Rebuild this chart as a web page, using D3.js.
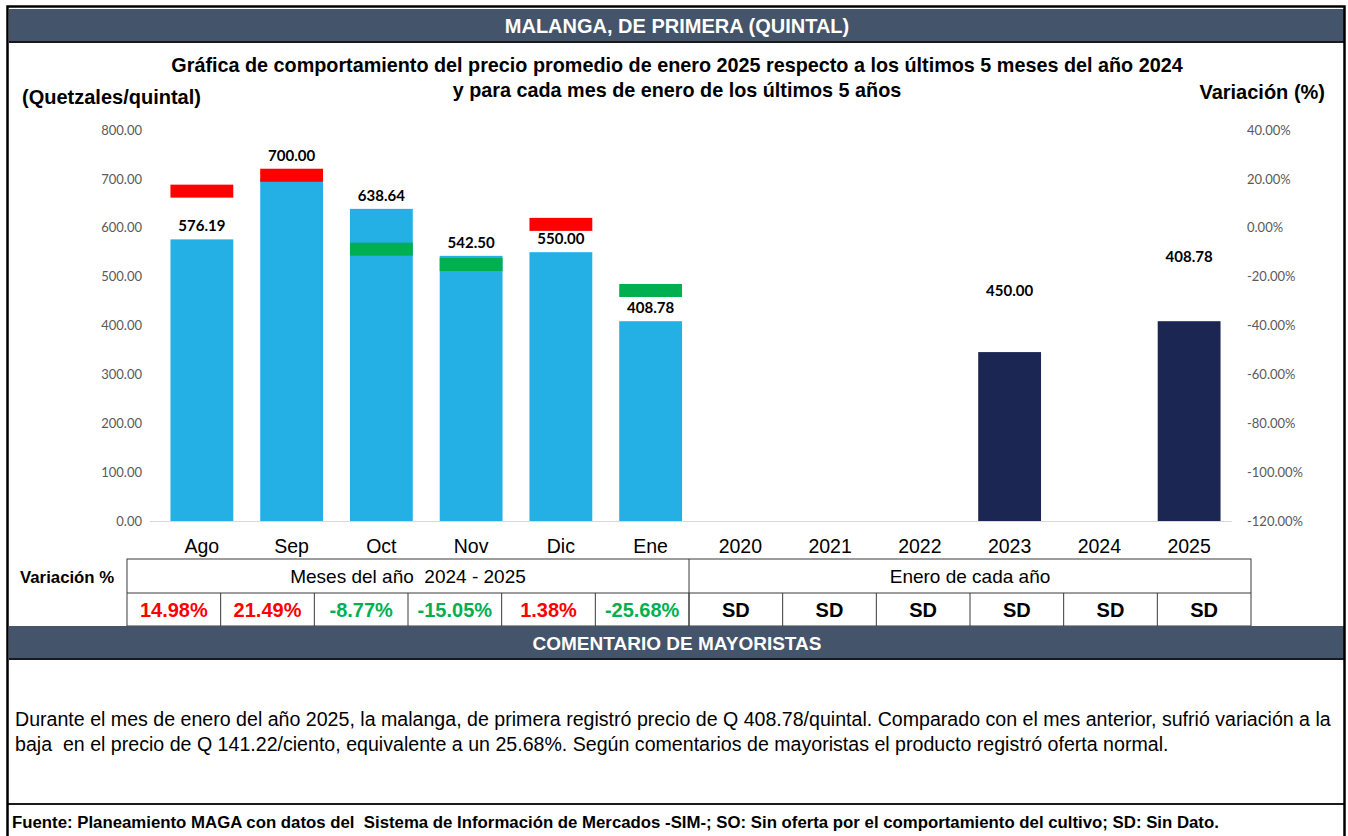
<!DOCTYPE html>
<html lang="es">
<head>
<meta charset="utf-8">
<title>Malanga, de primera (quintal)</title>
<script src="https://cdn.jsdelivr.net/npm/d3@7/dist/d3.min.js"></script>
<style>
  body { margin: 0; background: #fff; }
  svg { display: block; font-family: "Liberation Sans", Arial, sans-serif; }
  svg text { white-space: pre; }
  .tick-label { font-family: Lato, "Liberation Sans", sans-serif; font-size: 13px; fill: #595959; }
  .bar-label { font-family: Lato, "Liberation Sans", sans-serif; font-size: 15px; font-weight: 700; fill: #000; }
</style>
</head>
<body>
<div id="chart"></div>
<script>
// Datos
const months = ['Ago', 'Sep', 'Oct', 'Nov', 'Dic', 'Ene'];
const years = ['2020', '2021', '2022', '2023', '2024', '2025'];
const monthPrices = [576.19, 700.00, 638.64, 542.50, 550.00, 408.78];
const monthVariation = [14.98, 21.49, -8.77, -15.05, 1.38, -25.68];
// barras de enero de cada año (altura tal como se dibuja en la gráfica)
const yearBarPrices = [null, null, null, 345.6, null, 408.78];
const yearPriceLabels = [null, null, null, '450.00', null, '408.78'];
const yearLabelLevels = [null, null, null, 460, null, 530];
const yearVariation = ['SD', 'SD', 'SD', 'SD', 'SD', 'SD'];
const leftTicks = [0, 100, 200, 300, 400, 500, 600, 700, 800];
const rightTicks = [-120, -100, -80, -60, -40, -20, 0, 20, 40];

const comment = [
  'Durante el mes de enero del año 2025, la malanga, de primera registró precio de Q 408.78/quintal. Comparado con el mes anterior, sufrió variación a la',
  'baja  en el precio de Q 141.22/ciento, equivalente a un 25.68%. Según comentarios de mayoristas el producto registró oferta normal.'
];

const width = 1348;
const height = 836;
const headerColor = '#44546a';
const lightBlue = '#25b0e5';
const navy = '#1b2653';
const red = '#ff0000';
const green = '#00b050';

const svg = d3.select('#chart')
  .append('svg')
  .attr('width', width)
  .attr('height', height);

svg.append('rect').attr('width', width).attr('height', height).attr('fill', '#fff');

// Barra de título
function headerBar(y, h, label, size) {
  svg.append('rect')
    .attr('x', 9).attr('y', y).attr('width', 1335).attr('height', h)
    .attr('fill', headerColor);
  svg.append('line')
    .attr('x1', 9).attr('x2', 1344).attr('y1', y + h).attr('y2', y + h)
    .attr('stroke', '#1a1a1a').attr('stroke-width', 2);
  svg.append('text')
    .attr('x', 677).attr('y', y + h / 2 + 7)
    .attr('text-anchor', 'middle')
    .attr('font-size', size + 'px')
    .attr('font-weight', 700)
    .attr('fill', '#fff')
    .text(label);
}

headerBar(9, 33, 'MALANGA, DE PRIMERA (QUINTAL)', 20);

// Títulos del gráfico
const titleLines = [
  'Gráfica de comportamiento del precio promedio de enero 2025 respecto a los últimos 5 meses del año 2024',
  'y para cada mes de enero de los últimos 5 años'
];
titleLines.forEach((t, i) => {
  svg.append('text')
    .attr('x', 677).attr('y', 72 + i * 25)
    .attr('text-anchor', 'middle')
    .attr('font-size', '19.8px')
    .attr('font-weight', 700)
    .text(t);
});

svg.append('text')
  .attr('x', 22).attr('y', 104)
  .attr('font-size', '20px').attr('font-weight', 700)
  .text('(Quetzales/quintal)');

svg.append('text')
  .attr('x', 1325).attr('y', 99)
  .attr('text-anchor', 'end')
  .attr('font-size', '20px').attr('font-weight', 700)
  .text('Variación (%)');

// Escalas
const categories = months.concat(years);
const x = d3.scaleBand()
  .domain(categories)
  .range([157, 1234])
  .paddingInner(0.3)
  .paddingOuter(0.15);

const yLeft = d3.scaleLinear().domain([0, 800]).range([521, 130]);
const yRight = d3.scaleLinear().domain([-120, 40]).range([521, 130]);

// Ejes (solo etiquetas, sin líneas)
const leftAxis = svg.append('g')
  .attr('transform', 'translate(142,0)')
  .call(d3.axisLeft(yLeft).tickValues(leftTicks).tickFormat(d3.format('.2f')).tickSize(0).tickPadding(0));
leftAxis.select('.domain').remove();
leftAxis.selectAll('text').attr('class', 'tick-label').attr('font-family', null).attr('font-size', null).attr('fill', null);

const rightAxis = svg.append('g')
  .attr('transform', 'translate(1247,0)')
  .call(d3.axisRight(yRight).tickValues(rightTicks).tickFormat(d => d.toFixed(2) + '%').tickSize(0).tickPadding(0));
rightAxis.select('.domain').remove();
rightAxis.selectAll('text').attr('class', 'tick-label').attr('font-family', null).attr('font-size', null).attr('fill', null);

// Línea base
svg.append('line')
  .attr('x1', 150).attr('x2', 1232)
  .attr('y1', yLeft(0) + 0.5).attr('y2', yLeft(0) + 0.5)
  .attr('stroke', '#d9d9d9').attr('stroke-width', 1);

// Barras de los meses
const monthData = months.map((m, i) => ({ cat: m, price: monthPrices[i], variation: monthVariation[i] }));

svg.selectAll('.month-bar')
  .data(monthData)
  .enter()
  .append('rect')
  .attr('class', 'month-bar')
  .attr('x', d => x(d.cat))
  .attr('y', d => yLeft(d.price))
  .attr('width', x.bandwidth())
  .attr('height', d => yLeft(0) - yLeft(d.price))
  .attr('fill', lightBlue);

// Barras de enero de cada año
const yearData = years.map((yr, i) => ({
  cat: yr, price: yearBarPrices[i], label: yearPriceLabels[i], level: yearLabelLevels[i]
})).filter(d => d.price !== null);

svg.selectAll('.year-bar')
  .data(yearData)
  .enter()
  .append('rect')
  .attr('class', 'year-bar')
  .attr('x', d => x(d.cat))
  .attr('y', d => yLeft(d.price))
  .attr('width', x.bandwidth())
  .attr('height', d => yLeft(0) - yLeft(d.price))
  .attr('fill', navy);

// Marcadores de variación (eje derecho)
const markerH = 13;
svg.selectAll('.marker')
  .data(monthData)
  .enter()
  .append('rect')
  .attr('class', 'marker')
  .attr('x', d => x(d.cat))
  .attr('y', d => yRight(d.variation) - markerH / 2)
  .attr('width', x.bandwidth())
  .attr('height', markerH)
  .attr('fill', d => d.variation >= 0 ? red : green);

// Etiquetas de precio
function labelY(d) {
  const barTop = yLeft(d.price);
  const mTop = yRight(d.variation) - markerH / 2;
  const mBottom = mTop + markerH;
  const overlaps = mTop <= barTop + 2 && mBottom >= barTop - 2;
  return (overlaps ? Math.min(barTop, mTop) : barTop) - 8;
}

svg.selectAll('.month-label')
  .data(monthData)
  .enter()
  .append('text')
  .attr('class', 'bar-label')
  .attr('x', d => x(d.cat) + x.bandwidth() / 2)
  .attr('y', labelY)
  .attr('text-anchor', 'middle')
  .text(d => d.price.toFixed(2));

svg.selectAll('.year-label')
  .data(yearData)
  .enter()
  .append('text')
  .attr('class', 'bar-label')
  .attr('x', d => x(d.cat) + x.bandwidth() / 2)
  .attr('y', d => yLeft(d.level))
  .attr('text-anchor', 'middle')
  .text(d => d.label);

// Categorías del eje X
svg.selectAll('.cat-label')
  .data(categories)
  .enter()
  .append('text')
  .attr('x', d => x(d) + x.bandwidth() / 2)
  .attr('y', 553)
  .attr('text-anchor', 'middle')
  .attr('font-size', '19.5px')
  .text(d => d);

// Tabla de variación
const tableLeft = 127;
const tableRight = 1251;
const rowTop = 559;
const rowMid = 593;
const rowBottom = 626;
const cols = d3.scaleBand().domain(categories).range([tableLeft, tableRight]);
const lineColor = '#3a3a3a';

const table = svg.append('g');
table.append('rect')
  .attr('x', tableLeft).attr('y', rowTop)
  .attr('width', tableRight - tableLeft).attr('height', rowBottom - rowTop)
  .attr('fill', 'none').attr('stroke', lineColor).attr('stroke-width', 1);
table.append('line')
  .attr('x1', tableLeft).attr('x2', tableRight).attr('y1', rowMid).attr('y2', rowMid)
  .attr('stroke', lineColor);
table.append('line')
  .attr('x1', cols('2020')).attr('x2', cols('2020')).attr('y1', rowTop).attr('y2', rowBottom)
  .attr('stroke', lineColor);
categories.slice(1).forEach(c => {
  table.append('line')
    .attr('x1', cols(c)).attr('x2', cols(c)).attr('y1', rowMid).attr('y2', rowBottom)
    .attr('stroke', lineColor);
});

table.append('text')
  .attr('x', (tableLeft + cols('2020')) / 2).attr('y', 583)
  .attr('text-anchor', 'middle').attr('font-size', '19px')
  .text('Meses del año  2024 - 2025');
table.append('text')
  .attr('x', (cols('2020') + tableRight) / 2).attr('y', 583)
  .attr('text-anchor', 'middle').attr('font-size', '19px')
  .text('Enero de cada año');

svg.append('text')
  .attr('x', 20).attr('y', 583)
  .attr('font-size', '16.8px').attr('font-weight', 700)
  .text('Variación %');

const cellData = monthVariation.map((v, i) => ({
  cat: months[i], text: v.toFixed(2) + '%', color: v >= 0 ? red : green
})).concat(yearVariation.map((v, i) => ({ cat: years[i], text: v, color: '#000' })));

table.selectAll('.cell')
  .data(cellData)
  .enter()
  .append('text')
  .attr('x', d => cols(d.cat) + cols.bandwidth() / 2)
  .attr('y', 617)
  .attr('text-anchor', 'middle')
  .attr('font-size', '20px')
  .attr('font-weight', 700)
  .attr('fill', d => d.color)
  .text(d => d.text);

// Comentario de mayoristas
headerBar(626, 33, 'COMENTARIO DE MAYORISTAS', 19);

comment.forEach((line, i) => {
  svg.append('text')
    .attr('x', 15).attr('y', 726 + i * 25)
    .attr('font-size', '19.6px')
    .text(line);
});

svg.append('line')
  .attr('x1', 8).attr('x2', 1344).attr('y1', 804).attr('y2', 804)
  .attr('stroke', '#1a1a1a').attr('stroke-width', 2);

svg.append('text')
  .attr('x', 12).attr('y', 828)
  .attr('font-size', '16.8px').attr('font-weight', 700)
  .text('Fuente: Planeamiento MAGA con datos del  Sistema de Información de Mercados -SIM-; SO: Sin oferta por el comportamiento del cultivo; SD: Sin Dato.');

// Marco exterior
svg.append('rect')
  .attr('x', 7.5).attr('y', 6.5).attr('width', 1337).attr('height', 840)
  .attr('fill', 'none').attr('stroke', '#000').attr('stroke-width', 2.5);
</script>
</body>
</html>
